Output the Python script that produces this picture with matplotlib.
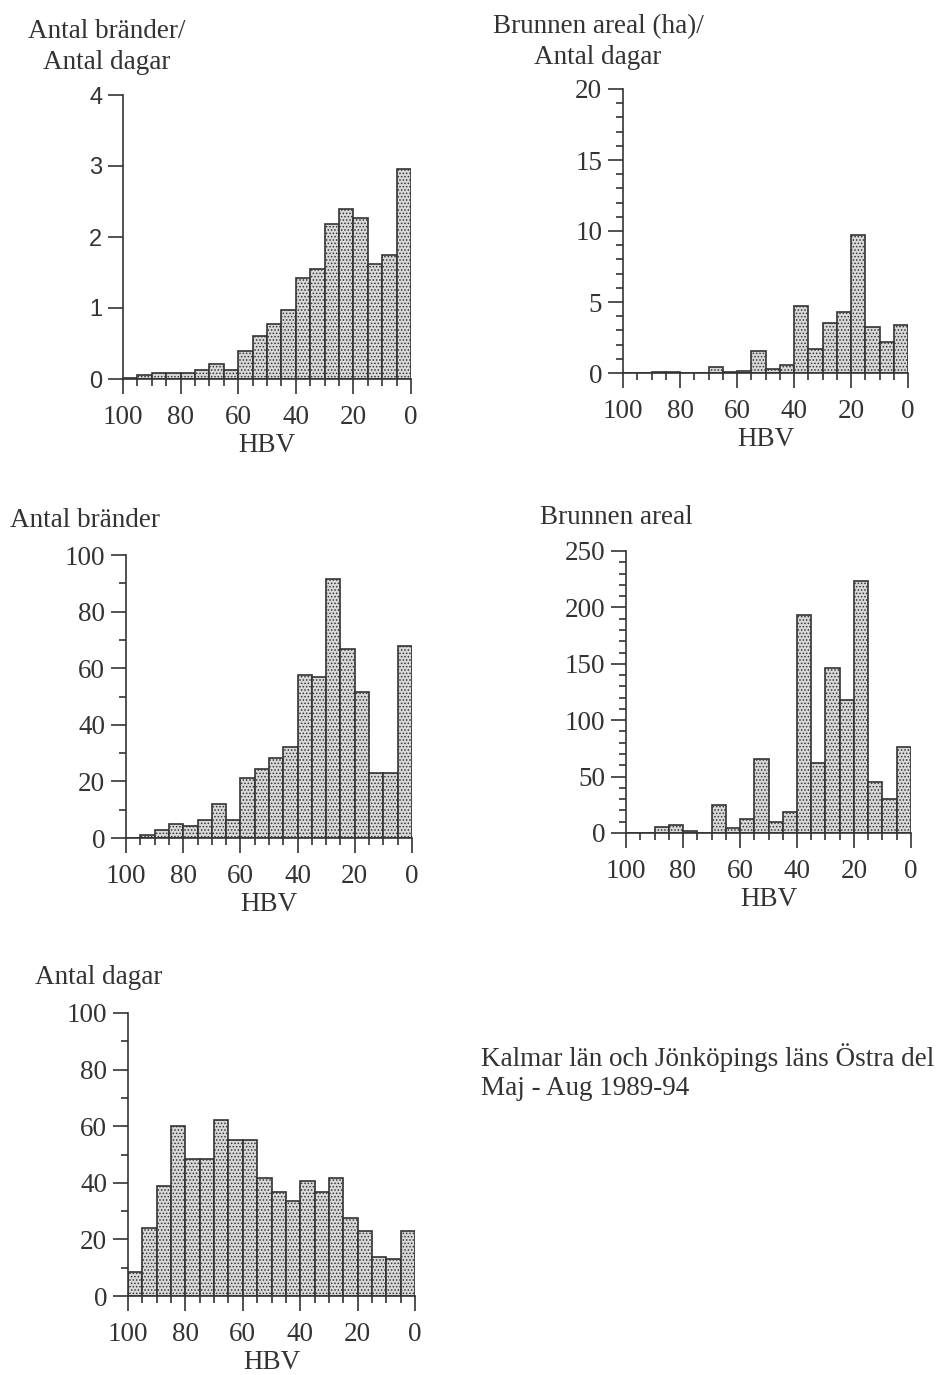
import numpy as np
import matplotlib.pyplot as plt
from matplotlib.ticker import MultipleLocator

plt.rcParams['font.family'] = ['Liberation Serif', 'DejaVu Serif']
plt.rcParams['hatch.linewidth'] = 0.7

# HBV-klasser (övre gräns), 5 enheter breda, från 100 ner till 0
hbv_ovre = np.arange(100, 0, -5)

brander_per_dag = [0.01, 0.05, 0.08, 0.09, 0.09, 0.13, 0.21, 0.13, 0.40, 0.60,
                   0.78, 0.97, 1.42, 1.55, 2.19, 2.39, 2.27, 1.62, 1.74, 2.96]
areal_per_dag = [0.0, 0.0, 0.07, 0.07, 0.0, 0.0, 0.40, 0.05, 0.17, 1.53,
                 0.28, 0.54, 4.74, 1.71, 3.52, 4.27, 9.74, 3.22, 2.21, 3.38]
antal_brander = [0, 1.2, 2.9, 5.1, 4.2, 6.2, 12.1, 6.2, 21.1, 24.4,
                 28.2, 32.3, 57.5, 56.8, 91.6, 66.7, 51.7, 22.8, 22.8, 68.0]
brunnen_areal = [0, 0, 5.3, 6.8, 2.0, 0, 25, 4.7, 12.7, 65.5,
                 9.7, 18.3, 193, 62.5, 146, 118, 223, 45, 29.8, 76]
antal_dagar = [8.5, 24.2, 39.0, 59.9, 48.4, 48.4, 62.2, 55.1, 55.1, 41.6,
               36.6, 33.6, 40.7, 36.6, 41.6, 27.7, 23.0, 13.8, 13.2, 23.0]

W, H = 939, 1375
ink = '#333333'
fs = 19.5


def ax_px(x0, x1, ytop, ybot):
    return [x0 / W, 1 - ybot / H, (x1 - x0) / W, (ybot - ytop) / H]


def histo(rect, values, ymax, ymajor, yminor, sans_y=False):
    ax = fig.add_axes(rect)
    ax.bar(hbv_ovre - 2.5, values, width=5, facecolor='#d9d9d9',
           edgecolor=ink, linewidth=1.2, hatch='.....')
    ax.set_xlim(100, 0)
    ax.set_ylim(0, ymax)
    for s in ['top', 'right']:
        ax.spines[s].set_visible(False)
    for s in ['left', 'bottom']:
        ax.spines[s].set_linewidth(1.2)
        ax.spines[s].set_color(ink)
    ax.xaxis.set_major_locator(MultipleLocator(20))
    ax.xaxis.set_minor_locator(MultipleLocator(5))
    ax.yaxis.set_major_locator(MultipleLocator(ymajor))
    if yminor:
        ax.yaxis.set_minor_locator(MultipleLocator(yminor))
    ax.tick_params(which='major', length=11, width=1.2, color=ink,
                   labelsize=fs, labelcolor=ink)
    ax.tick_params(which='minor', length=5, width=1.2, color=ink)
    ax.tick_params(axis='x', pad=8)
    ax.tick_params(axis='y', pad=4)
    if sans_y:
        for t in ax.get_yticklabels():
            t.set_family('Liberation Sans')
            t.set_fontsize(17)
    ax.set_xlabel('HBV', fontsize=fs, color=ink, labelpad=2)
    return ax


fig = plt.figure(figsize=(W / 100, H / 100), dpi=100)

histo(ax_px(123, 411, 95, 379), brander_per_dag, 4, 1, None, sans_y=True)
histo(ax_px(623, 908, 89, 373), areal_per_dag, 20, 5, 1)
histo(ax_px(126, 412, 555, 838), antal_brander, 100, 20, 10)
histo(ax_px(626, 911, 551, 833), brunnen_areal, 250, 50, 10)
histo(ax_px(128, 415, 1013, 1296), antal_dagar, 100, 20, 10)

fig.text(107 / W, 1 - 47 / H, 'Antal bränder/\nAntal dagar', ha='center',
         va='center', fontsize=fs, color=ink, linespacing=1.3)
fig.text(598 / W, 1 - 42 / H, 'Brunnen areal (ha)/\nAntal dagar', ha='center',
         va='center', fontsize=fs, color=ink, linespacing=1.3)
fig.text(10 / W, 1 - 521 / H, 'Antal bränder', ha='left', va='center',
         fontsize=fs, color=ink)
fig.text(540 / W, 1 - 517 / H, 'Brunnen areal', ha='left', va='center',
         fontsize=fs, color=ink)
fig.text(35 / W, 1 - 978 / H, 'Antal dagar', ha='left', va='center',
         fontsize=fs, color=ink)
fig.text(481 / W, 1 - 1072 / H,
         'Kalmar län och Jönköpings läns Östra del\nMaj - Aug 1989-94',
         ha='left', va='center', fontsize=fs, color=ink, linespacing=1.25)

fig.savefig('out.png', dpi=100, facecolor='white')
